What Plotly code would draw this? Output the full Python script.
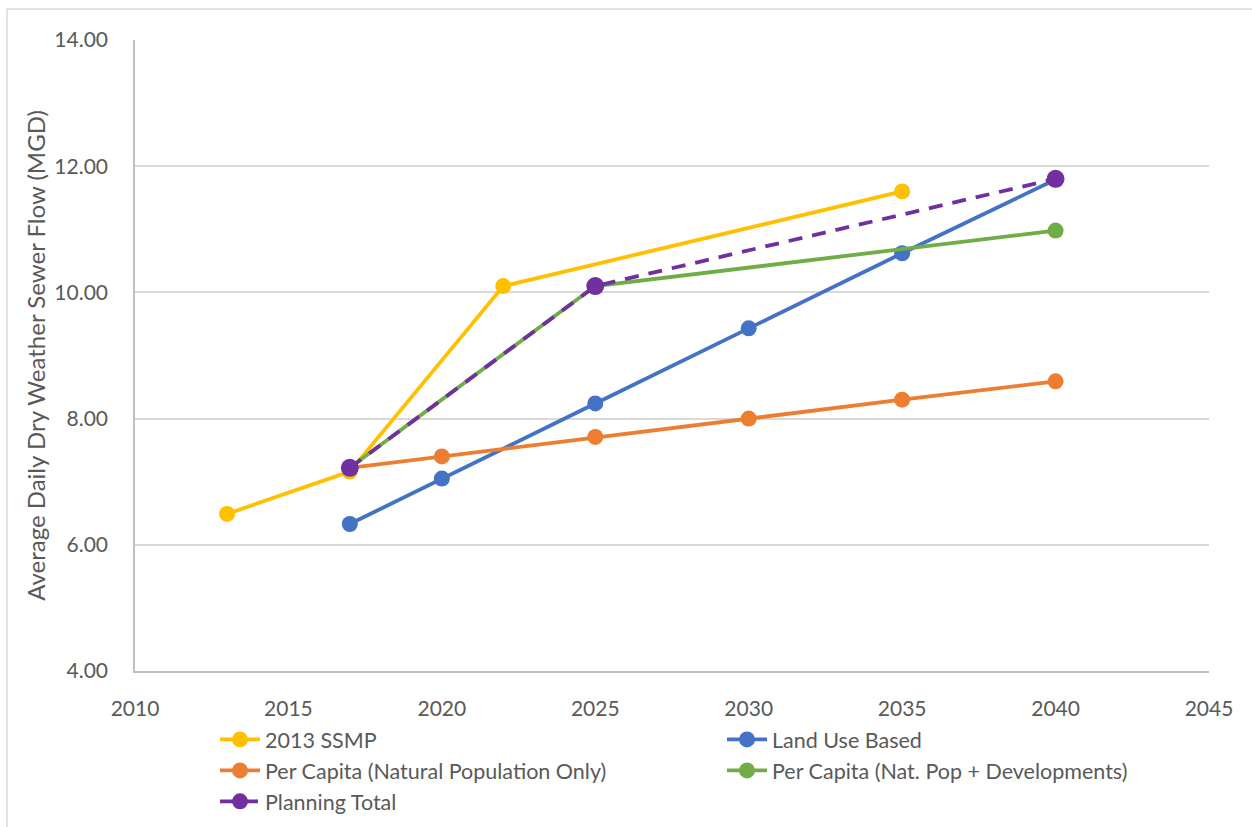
import plotly.graph_objects as go

ssmp_years = [2013, 2017, 2022, 2035]
ssmp_vals = [6.49, 7.16, 10.10, 11.60]

land_years = [2017, 2020, 2025, 2030, 2035, 2040]
land_vals = [6.33, 7.05, 8.24, 9.43, 10.62, 11.79]

pcn_years = [2017, 2020, 2025, 2030, 2035, 2040]
pcn_vals = [7.22, 7.40, 7.71, 8.00, 8.30, 8.59]

pcd_years = [2017, 2025, 2040]
pcd_vals = [7.22, 10.10, 10.98]

plan_years = [2017, 2025, 2040]
plan_vals = [7.22, 10.10, 11.80]

x_ticks = [2010, 2015, 2020, 2025, 2030, 2035, 2040, 2045]
y_ticks = [4, 6, 8, 10, 12, 14]
y_tick_text = ["4.00", "6.00", "8.00", "10.00", "12.00", "14.00"]

FONT = "Lato, Open Sans, sans-serif"
TXT = "#595959"

series = [
    ("2013 SSMP", ssmp_years, ssmp_vals, "#FFC000", "solid"),
    ("Land Use Based", land_years, land_vals, "#4472C4", "solid"),
    ("Per Capita (Natural Population Only)", pcn_years, pcn_vals, "#ED7D31", "solid"),
    ("Per Capita (Nat. Pop + Developments)", pcd_years, pcd_vals, "#70AD47", "solid"),
    ("Planning Total", plan_years, plan_vals, "#7030A0", "14px,10px"),
]

fig = go.Figure()
for name, xs, ys, col, dash in series:
    fig.add_trace(go.Scatter(
        x=xs, y=ys, name=name, mode="lines+markers",
        line=dict(color=col, width=3.8, dash=dash),
        marker=dict(color=col, size=16 if name != "Planning Total" else 18),
    ))

fig.update_layout(
    width=1252, height=827,
    margin=dict(l=135, r=43, t=40, b=156, autoexpand=False),
    paper_bgcolor="white", plot_bgcolor="white",
    font=dict(family=FONT, color=TXT, size=21),
    showlegend=True,
    legend=dict(
        orientation="h", x=0.0745, y=-0.076, xanchor="left", yanchor="top",
        entrywidth=452, entrywidthmode="pixels",
        font=dict(size=21.5, color=TXT), itemwidth=40,
        bgcolor="rgba(0,0,0,0)",
    ),
    xaxis=dict(
        range=[2010, 2045], tickvals=x_ticks, showgrid=False,
        showline=True, linecolor="#BFBFBF", linewidth=1.5,
        ticks="", ticklabelstandoff=18, zeroline=False,
        tickfont=dict(size=21, color=TXT),
    ),
    yaxis=dict(
        range=[4, 14], tickvals=y_ticks, ticktext=y_tick_text,
        showgrid=True, gridcolor="#D9D9D9", gridwidth=1.5,
        showline=True, linecolor="#BFBFBF", linewidth=1.5,
        ticks="", ticklabelstandoff=21, zeroline=False,
        tickfont=dict(size=21, color=TXT),
        title=dict(text="Average Daily Dry Weather Sewer Flow (MGD)",
                   font=dict(size=24, color=TXT), standoff=2),
    ),
    shapes=[dict(type="rect", xref="paper", yref="paper",
                 x0=(7 - 135) / 1074, x1=(1270 - 135) / 1074,
                 y0=(671 - 840) / 631, y1=(671 - 9) / 631,
                 line=dict(color="#D9D9D9", width=1.5), layer="below")],
)

fig.write_html("out.html")
